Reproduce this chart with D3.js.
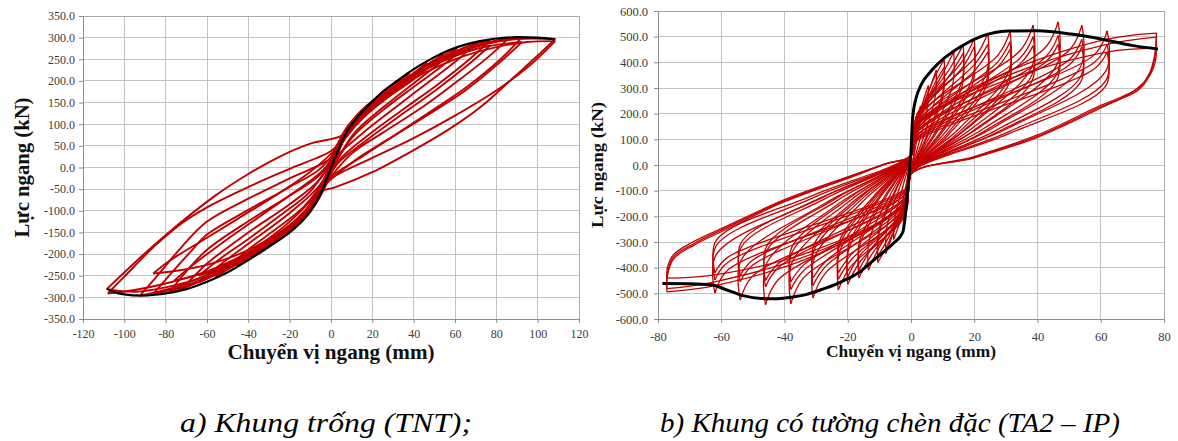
<!DOCTYPE html>
<html>
<head>
<meta charset="utf-8">
<script src="https://cdn.jsdelivr.net/npm/d3@7"></script>
<style>
  body { margin: 0; background: #fff; }
  svg { display: block; }
</style>
</head>
<body>
<svg id="fig" width="1178" height="441"></svg>
<script>
// ---------- Panel a: bare frame (TNT) ----------
const tntXTicks = [-120, -100, -80, -60, -40, -20, 0, 20, 40, 60, 80, 100, 120];
const tntYTicks = [350, 300, 250, 200, 150, 100, 50, 0, -50, -100, -150, -200, -250, -300, -350];

// envelope (black) curve, displacement mm / force kN
const tntEnvelope = [[-108.5,-280],[-104,-289],[-100,-293],[-92,-296],[-85,-294],[-80,-291],[-70,-281],[-60,-264],[-50,-242],[-40,-214],[-30,-183],[-20,-150],[-14,-124],[-10,-102],[-6,-70],[-3,-38],[0,0],[3,35],[6,68],[9,92],[13,118],[18,143],[25,175],[32,200],[40,227],[50,255],[57,271],[65,284],[72,292],[80,298],[90,301],[100,300],[108.5,296]];

// hysteresis cycles: each starts at the positive peak, runs to the negative peak and back
const tntCycles = [
  [[108.5,297],[99,254],[89,211],[73,142],[57,88],[40.7,42],[19.7,-11.5],[1.9,-46],[-4.5,-55],[-9,-86],[-15,-118],[-25,-160],[-40,-203],[-60,-250],[-80,-277],[-95,-287],[-108.5,-281],
   [-95,-220],[-80.5,-158],[-56,-65],[-40,-15],[-24,27],[-10,55],[5,73],[8,88],[13,112],[20,140],[30,180],[45,228],[60,262],[75,285],[90,297],[108.5,297]],
  [[108.5,292],[96,235],[80,178],[60,120],[40,68],[20,22],[0,-25],[-4,-46],[-8,-74],[-14,-108],[-25,-152],[-40,-196],[-60,-240],[-80,-268],[-95,-283],[-108,-291],
   [-100,-252],[-85,-180],[-72,-128],[-60,-92],[-40,-45],[-20,-3],[0,38],[5,62],[9,86],[15,115],[25,155],[40,205],[60,250],[80,278],[95,290],[108.5,292]],
  [[92.4,301],[82,250],[66,187],[50,135],[30,72],[15,25],[0,-22],[-4,-47],[-8,-76],[-14,-110],[-25,-155],[-40,-200],[-60,-248],[-78,-280],[-92.4,-296],
   [-84,-250],[-72,-182],[-60,-125],[-40,-72],[-20,-25],[0,22],[6,62],[10,95],[16,125],[26,165],[40,212],[55,252],[70,280],[82,295],[92.4,301]],
  [[86,299],[76,255],[60,195],[45,142],[25,80],[10,32],[-4,-46],[-8,-76],[-14,-112],[-25,-158],[-40,-204],[-55,-242],[-70,-272],[-86,-292],
   [-78,-248],[-68,-195],[-60,-155],[-40,-98],[-20,-45],[-5,-2],[5,58],[10,96],[16,126],[26,168],[40,214],[55,252],[70,281],[86,299]],
  [[77,294],[67,250],[52,193],[36,138],[20,82],[5,22],[-4,-46],[-9,-84],[-15,-118],[-26,-162],[-40,-206],[-55,-245],[-68,-272],[-78,-287],
   [-70,-240],[-60,-190],[-40,-124],[-20,-65],[-5,-15],[4,50],[9,90],[15,122],[25,164],[38,210],[52,250],[65,277],[77,294]],
  [[70.6,288],[61,248],[46,193],[31,138],[15,78],[0,10],[-4,-45],[-9,-84],[-15,-120],[-26,-165],[-40,-208],[-55,-246],[-72,-279],
   [-66,-250],[-60,-222],[-40,-150],[-20,-85],[-5,-25],[4,48],[9,90],[15,122],[25,163],[38,208],[52,248],[62,272],[70.6,288]],
  [[61,276],[53,243],[41,198],[26,142],[11,78],[-4,-42],[-9,-84],[-16,-124],[-28,-172],[-42,-214],[-55,-245],[-64,-266],
   [-55,-230],[-40,-176],[-20,-105],[-5,-38],[3,40],[8,85],[14,118],[24,160],[36,204],[48,242],[61,276]],
  [[54.5,262],[46,230],[35,192],[20,134],[5,58],[-3,-30],[-9,-84],[-16,-124],[-28,-172],[-40,-208],[-56,-252],
   [-48,-224],[-40,-198],[-20,-125],[-5,-48],[3,32],[8,84],[14,118],[24,160],[36,204],[46,236],[54.5,262]],
  [[46.5,242],[40,218],[28,178],[15,124],[3,40],[-3,-28],[-9,-84],[-16,-124],[-26,-165],[-36,-199],[-46,-228],
   [-40,-208],[-28,-168],[-15,-115],[-3,-30],[2,24],[8,84],[14,118],[24,160],[35,198],[46.5,242]],
  [[38,218],[30,191],[20,152],[8,92],[-2,-14],[-8,-78],[-15,-120],[-25,-160],[-38,-205],
   [-30,-178],[-20,-138],[-8,-82],[2,16],[8,84],[15,124],[26,168],[38,218]],
  [[30,192],[22,162],[12,118],[2,40],[-2,-14],[-8,-80],[-15,-122],[-22,-155],[-30,-180],
   [-22,-151],[-12,-108],[-2,-30],[2,16],[8,86],[15,126],[22,160],[30,192]],
  [[22,160],[15,131],[7,88],[-1,0],[-7,-70],[-14,-118],[-22,-155],
   [-15,-124],[-7,-80],[1,6],[7,76],[14,124],[22,160]],
  [[15,128],[8,94],[0,20],[-1,-5],[-7,-72],[-15,-122],
   [-8,-88],[0,-14],[1,6],[7,74],[15,128]],
  [[8,82],[3,45],[-1,-5],[-4,-45],[-8,-80],
   [-3,-40],[1,5],[4,42],[8,82]],
  [[46.5,228],[39,200],[27,160],[14,108],[2,30],[-3,-28],[-9,-80],[-18,-125],[-30,-170],[-46,-214],
   [-38,-182],[-26,-140],[-13,-90],[-2,-18],[2,24],[9,88],[17,128],[28,170],[38,202],[46.5,228]],
  [[61,262],[52,228],[40,186],[25,132],[10,68],[-3,-34],[-10,-86],[-20,-135],[-35,-185],[-50,-225],[-64,-250],
   [-54,-212],[-40,-165],[-25,-112],[-10,-55],[3,38],[9,88],[18,132],[30,178],[45,225],[61,262]],
  [[77,282],[66,236],[50,176],[34,122],[18,66],[3,8],[-4,-46],[-12,-100],[-25,-150],[-42,-195],[-60,-225],[-74,-238],[-86,-245],
   [-78,-215],[-62,-168],[-45,-118],[-27,-65],[-10,-10],[4,52],[10,95],[18,136],[30,182],[45,225],[60,258],[77,282]],
  [[92.4,290],[81,240],[65,178],[48,125],[28,66],[12,18],[-4,-46],[-12,-104],[-25,-155],[-40,-200],[-58,-238],[-76,-262],
   [-66,-222],[-52,-172],[-35,-115],[-18,-58],[-3,-2],[5,60],[10,96],[18,136],[30,182],[48,232],[70,274],[92.4,290]]
];

// ---------- Panel b: frame with solid infill (TA2 - IP) ----------
const ipXTicks = [-80, -60, -40, -20, 0, 20, 40, 60, 80];
const ipYTicks = [600, 500, 400, 300, 200, 100, 0, -100, -200, -300, -400, -500, -600];

const ipEnvelope = [[-78.6,-462],[-70,-463],[-63.3,-467],[-58,-488],[-52.8,-510],[-47.5,-520],[-43,-521],[-39,-517],[-33,-504],[-28.5,-486],[-24,-466],[-20,-443],[-16,-415],[-12.7,-380],[-9,-342],[-5.3,-302],[-2.6,-262],[-1.9,-208],[-1.3,-130],[-0.5,-26],[0,52],[0.5,182],[1.6,260],[3.2,312],[6.3,365],[10.6,417],[15.8,462],[22.2,501],[30.6,522],[40,523],[50.7,510],[61.2,488],[69.7,466],[78.1,452]];

const ipCycles = [
  [[1.5,130],[1.3,85],[0.3,-10],[-0.5,-55],[-1.5,-120],
   [-1.3,-80],[-0.3,15],[0.6,70],[1.5,130]],
  [[3,230],[2.7,160],[1.2,55],[0,-25],[-1.2,-120],[-2.4,-175],[-3,-210],
   [-2.7,-150],[-1.2,-55],[0,30],[1.2,130],[2.4,195],[3,230]],
  [[5.5,310],[5.1,215],[2.5,85],[0,-28],[-1.5,-130],[-4,-240],[-5.5,-290],
   [-5.1,-205],[-2.5,-80],[0,32],[1.5,140],[4,255],[5.5,310]],
  [[8,370],[7.6,260],[4,110],[0,-30],[-2,-150],[-5,-245],[-8,-345],
   [-7.6,-240],[-4,-100],[0,35],[2,160],[5,265],[8,370]],
  [[10.5,410],[10.1,287],[5,115],[0,-30],[-2,-150],[-7,-300],[-10.5,-380],
   [-10.1,-266],[-5,-105],[0,36],[2,160],[7,330],[10.5,410]],
  [[10.5,380],[10.1,266],[5,105],[0,-30],[-2,-140],[-7,-280],[-10.5,-355],
   [-10.1,-248],[-5,-98],[0,36],[2,150],[7,305],[10.5,380]],
  [[13.5,440],[13.1,308],[6.5,125],[0,-30],[-2,-165],[-10,-320],[-13.5,-410],
   [-13.1,-287],[-6.5,-115],[0,36],[2,175],[10,355],[13.5,440]],
  [[16.5,468],[16.1,328],[8,135],[0,-30],[-2,-175],[-12.5,-350],[-16.5,-440],
   [-16.1,-308],[-8,-125],[0,38],[2,185],[12.5,380],[16.5,468]],
  [[16.5,435],[16.1,305],[8,125],[0,-30],[-2,-165],[-12.5,-325],[-16.5,-410],
   [-16.1,-287],[-8,-116],[0,38],[2,175],[12.5,355],[16.5,435]],
  [[20,492],[19.6,345],[10,140],[0,-30],[-2,-190],[-16,-375],[-20,-465],
   [-19.6,-325],[-10,-130],[0,38],[2,200],[16,400],[20,492]],
  [[20,460],[19.6,322],[10,130],[0,-30],[-2,-180],[-16,-350],[-20,-435],
   [-19.6,-305],[-10,-122],[0,38],[2,190],[16,375],[20,460]],
  [[24.3,514],[23.9,360],[12,145],[0,-30],[-2,-200],[-19,-395],[-23,-487],
   [-22.6,-340],[-11.5,-135],[0,38],[2,200],[20.3,420],[24.3,514]],
  [[31.3,519],[30.9,363],[15.5,145],[0,-30],[-2,-185],[-27,-420],[-31,-518],
   [-30.6,-363],[-15.5,-145],[0,38],[2,185],[27.3,425],[31.3,519]],
  [[38.6,545],[38.2,382],[19,155],[0,-30],[-2,-170],[-34,-440],[-38,-541],
   [-37.6,-379],[-19,-150],[0,38],[2,170],[34.6,447],[38.6,545]],
  [[46.5,558],[46.1,390],[23,158],[0,-30],[-1.8,-150],[-42,-447],[-46,-545],
   [-45.6,-382],[-23,-152],[0,38],[1.8,150],[42.5,458],[46.5,558]],
  [[54,545],[53.6,382],[27,152],[0,-30],[-1.6,-130],[-50,-432],[-54,-526],
   [-53.6,-368],[-27,-148],[0,38],[1.6,130],[50,447],[54,545]],
  [[62,523],[61.6,366],[31,145],[0,-30],[-1.4,-110],[-58,-410],[-62,-499],
   [-61.6,-349],[-31,-142],[0,38],[1.4,110],[58,430],[62,523]],
  [[24.3,470],[23.9,330],[12,130],[0,-30],[-1.8,-170],[-19,-370],[-23,-445],
   [-22.6,-312],[-11.5,-125],[0,38],[1.8,170],[20.3,395],[24.3,470]],
  [[31.3,480],[30.9,336],[15.5,132],[0,-30],[-1.7,-150],[-27,-395],[-31,-470],
   [-30.6,-330],[-15.5,-132],[0,38],[1.7,150],[27.3,400],[31.3,480]],
  [[38.6,500],[38.2,350],[19,140],[0,-30],[-1.6,-135],[-34,-412],[-38,-485],
   [-37.6,-340],[-19,-136],[0,38],[1.6,135],[34.6,418],[38.6,500]],
  [[46.5,505],[46.1,354],[23,142],[0,-30],[-1.5,-120],[-42,-400],[-46,-475],
   [-45.6,-333],[-23,-136],[0,38],[1.5,120],[42.5,420],[46.5,505]],
  [[54,490],[53.6,343],[27,136],[0,-30],[-1.3,-100],[-50,-390],[-54,-455],
   [-53.6,-318],[-27,-130],[0,38],[1.3,100],[50,410],[54,490]],
  [[62,470],[61.6,329],[31,130],[0,-30],[-1.2,-90],[-58,-380],[-62,-448],
   [-61.6,-314],[-31,-128],[0,38],[1.2,90],[58,400],[62,470]],
  [[24.3,440],[23.9,310],[12,120],[0,-30],[-2,-160],[-19,-350],[-23,-420],
   [-22.6,-295],[-11.5,-118],[0,38],[2,160],[20.3,370],[24.3,440]],
  [[31.3,450],[30.9,315],[15.5,122],[0,-30],[-1.9,-140],[-27,-375],[-31,-440],
   [-30.6,-308],[-15.5,-122],[0,38],[1.9,140],[27.3,380],[31.3,450]],
  [[38.6,465],[38.2,325],[19,128],[0,-30],[-1.7,-125],[-34,-390],[-38,-455],
   [-37.6,-318],[-19,-125],[0,38],[1.7,125],[34.6,395],[38.6,465]],
  [[46.5,470],[46.1,330],[23,130],[0,-30],[-1.5,-110],[-42,-385],[-46,-450],
   [-45.6,-315],[-23,-125],[0,38],[1.5,110],[42.5,400],[46.5,470]],
  [[54,460],[53.6,322],[27,126],[0,-30],[-1.3,-95],[-50,-370],[-54,-430],
   [-53.6,-300],[-27,-120],[0,38],[1.3,95],[50,390],[54,460]],
  [[62,440],[61.6,308],[31,122],[0,-30],[-1.1,-85],[-58,-360],[-62,-420],
   [-61.6,-294],[-31,-118],[0,38],[1.1,85],[58,375],[62,440]],
  [[77.6,514],[77.2,440],[75.5,360],[72,300],[66.5,265],[60,232],[40,117],[20,33],[0,-35],[-2,-150],[-30,-350],[-62,-470],[-77.2,-494],
   [-77,-430],[-75,-365],[-68.6,-312],[-60,-260],[-40,-143],[-20,-52],[-7.4,6],[0,35],[2,160],[30,360],[62,490],[77.6,514]],
  [[77.6,498],[77.2,428],[75.5,352],[72,293],[66,256],[60,226],[40,112],[20,30],[0,-35],[-2,-148],[-30,-340],[-62,-455],[-77.2,-482],
   [-77,-418],[-75,-357],[-68.6,-306],[-60,-254],[-40,-139],[-20,-49],[-7.4,7],[0,35],[2,158],[30,345],[62,470],[77.6,498]],
  [[77.6,455],[77.2,400],[75,340],[70,285],[60,222],[40,108],[20,28],[0,-35],[-2,-148],[-30,-330],[-62,-428],[-77.2,-441],
   [-77,-398],[-75,-348],[-69,-300],[-60,-248],[-40,-135],[-20,-46],[-7,8],[0,35],[2,155],[30,330],[62,440],[77.6,455]]
];

const xTitle = "Chuyển vị ngang (mm)";
const yTitle = "Lực ngang (kN)";
const captionA = "a) Khung trống (TNT);";
const captionB = "b) Khung có tường chèn đặc (TA2 – IP)";

// ---------- drawing ----------
const svg = d3.select("#fig");
svg.append("rect").attr("width", 1178).attr("height", 441).attr("fill", "#fff");

const locale = d3.formatLocale({decimal: ".", thousands: ",", grouping: [3], currency: ["", ""], minus: "-"});
const fmtForce = locale.format(".1f");
const fmtDisp = locale.format("d");
const SERIF = "'Liberation Serif', 'Times New Roman', serif";

function drawPanel(o) {
  const x = d3.scaleLinear().domain(o.xDomain).range([o.left, o.right]);
  const y = d3.scaleLinear().domain(o.yDomain).range([o.bottom, o.top]);
  const g = svg.append("g");

  // grid
  g.append("g").selectAll("line").data(o.xTicks).join("line")
    .attr("x1", d => x(d)).attr("x2", d => x(d))
    .attr("y1", o.top).attr("y2", o.bottom)
    .attr("stroke", "#c4c4c4").attr("stroke-width", 1).attr("shape-rendering", "crispEdges");
  g.append("g").selectAll("line").data(o.yTicks).join("line")
    .attr("y1", d => y(d)).attr("y2", d => y(d))
    .attr("x1", o.left).attr("x2", o.right)
    .attr("stroke", "#c4c4c4").attr("stroke-width", 1).attr("shape-rendering", "crispEdges");
  g.append("rect")
    .attr("x", o.left).attr("y", o.top)
    .attr("width", o.right - o.left).attr("height", o.bottom - o.top)
    .attr("fill", "none").attr("stroke", "#a8a8a8").attr("shape-rendering", "crispEdges");

  // axes
  const ax = g.append("g").attr("transform", `translate(0,${o.bottom})`)
    .call(d3.axisBottom(x).tickValues(o.xTicks).tickFormat(fmtDisp).tickSize(4).tickPadding(o.xPad));
  const ay = g.append("g").attr("transform", `translate(${o.left},0)`)
    .call(d3.axisLeft(y).tickValues(o.yTicks).tickFormat(fmtForce).tickSize(4).tickPadding(o.yPad));
  [ax, ay].forEach(a => {
    a.attr("font-family", SERIF).attr("font-size", o.tickFont);
    a.select(".domain").attr("stroke", "#8c8c8c");
    a.selectAll(".tick line").attr("stroke", "#8c8c8c");
    a.selectAll(".tick text").attr("fill", "#3c3c3c")
      .style("font-family", SERIF).style("font-size", o.tickFont + "px");
  });

  // hysteresis loops: split each cycle at its negative peak so the peaks stay sharp
  const line = d3.line().x(d => x(d[0])).y(d => y(d[1])).curve(d3.curveCatmullRom.alpha(0.5));
  const branches = [];
  o.cycles.forEach(c => {
    const k = d3.minIndex(c, d => d[0]);
    branches.push(c.slice(0, k + 1), c.slice(k));
  });
  g.append("g").selectAll("path").data(branches).join("path")
    .attr("d", line)
    .attr("fill", "none").attr("stroke", o.red)
    .attr("stroke-width", o.redWidth).attr("stroke-linejoin", "round");

  // envelope
  g.append("path").datum(o.envelope)
    .attr("d", d3.line().x(d => x(d[0])).y(d => y(d[1])).curve(d3.curveMonotoneX))
    .attr("fill", "none").attr("stroke", "#000").attr("stroke-width", o.blackWidth);

  // axis titles
  g.append("text").text(xTitle)
    .attr("x", x(0)).attr("y", o.xTitleY).attr("text-anchor", "middle")
    .attr("textLength", o.xTitleLen).attr("lengthAdjust", "spacingAndGlyphs")
    .style("font-family", SERIF).style("font-weight", "bold").style("font-size", o.titleFont + "px").attr("fill", "#111");
  g.append("text").text(yTitle)
    .attr("transform", `translate(${o.yTitleX},${y(0)}) rotate(-90)`)
    .attr("text-anchor", "middle")
    .attr("textLength", o.yTitleLen).attr("lengthAdjust", "spacingAndGlyphs")
    .style("font-family", SERIF).style("font-weight", "bold").style("font-size", o.yTitleFont + "px").attr("fill", "#111");
}

drawPanel({
  left: 83, right: 579, top: 16, bottom: 319,
  xDomain: [-120, 120], yDomain: [-350, 350],
  xTicks: tntXTicks, yTicks: tntYTicks,
  cycles: tntCycles, envelope: tntEnvelope,
  red: "#c00000", redWidth: 1.9, blackWidth: 2.2,
  xPad: 6, yPad: 4, tickFont: 12,
  xTitleY: 359, xTitleLen: 207, titleFont: 20,
  yTitleX: 29, yTitleLen: 140, yTitleFont: 20
});

drawPanel({
  left: 658, right: 1164, top: 11, bottom: 319,
  xDomain: [-80, 80], yDomain: [-600, 600],
  xTicks: ipXTicks, yTicks: ipYTicks,
  cycles: ipCycles, envelope: ipEnvelope,
  red: "#c30000", redWidth: 1.3, blackWidth: 3,
  xPad: 9, yPad: 6, tickFont: 12.5,
  xTitleY: 357, xTitleLen: 170, titleFont: 17,
  yTitleX: 603, yTitleLen: 126, yTitleFont: 17
});

// captions
[[captionA, 180, 292], [captionB, 660, 460]].forEach(([t, x0, len]) => {
  svg.append("text").text(t)
    .attr("x", x0).attr("y", 432)
    .attr("textLength", len).attr("lengthAdjust", "spacingAndGlyphs")
    .style("font-family", SERIF).style("font-style", "italic").style("font-size", "27px")
    .attr("fill", "#000");
});
</script>
</body>
</html>
